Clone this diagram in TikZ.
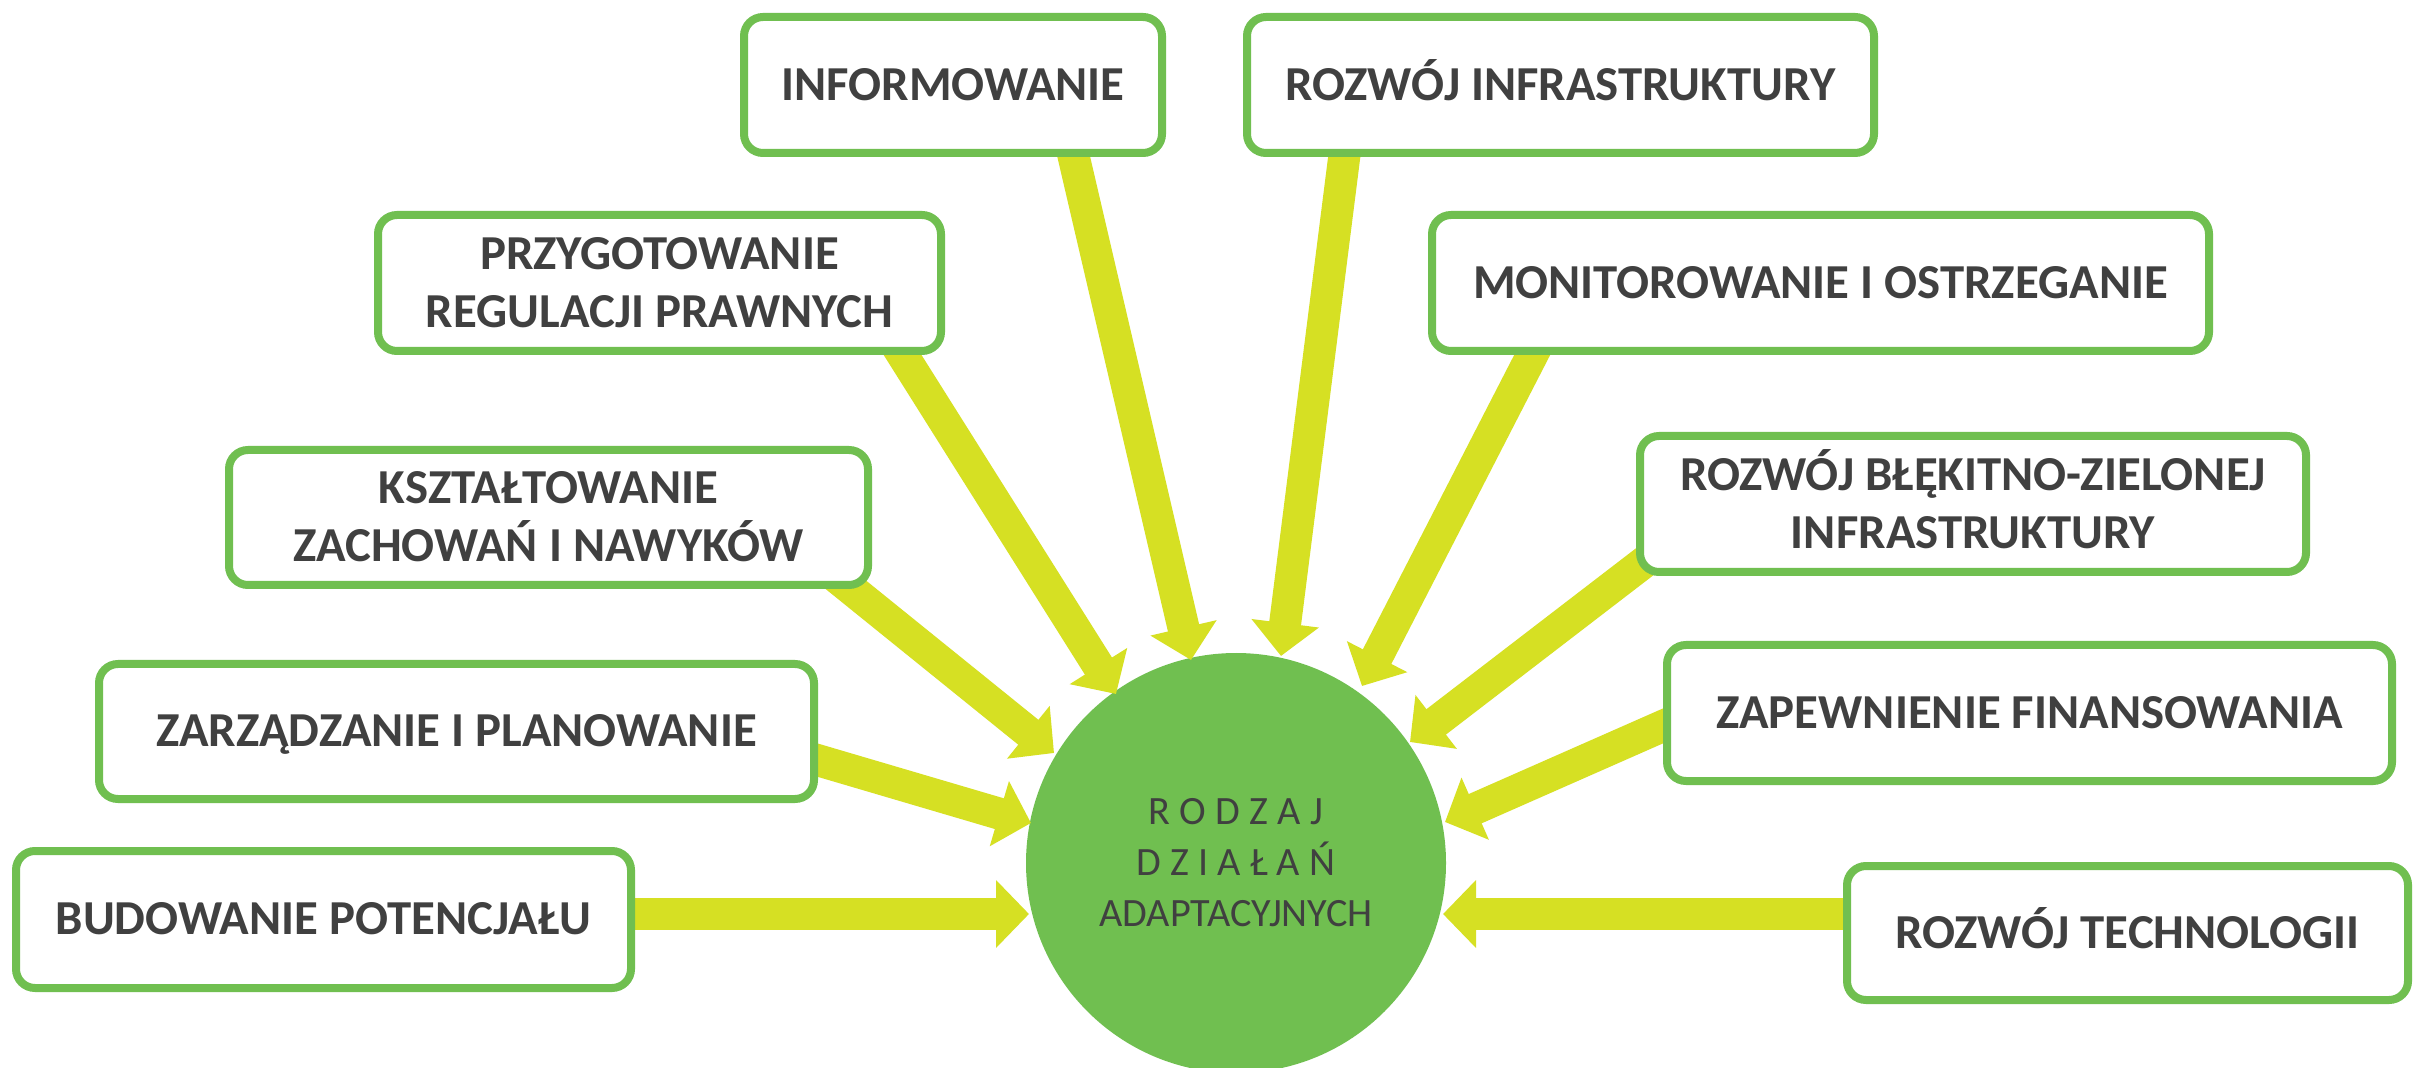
\documentclass[tikz,border=0pt]{standalone}
\usepackage{fontspec}
\setmainfont{Carlito}
\usetikzlibrary{arrows.meta}
\definecolor{gbox}{RGB}{112,191,80}
\definecolor{gcirc}{RGB}{112,191,80}
\definecolor{yarr}{RGB}{214,224,35}
\definecolor{tgray}{RGB}{64,64,64}
\newcommand\lsp{\kern4.6pt}
\begin{document}
\begin{tikzpicture}[x=0.5pt,y=-0.5pt,
  bx/.style={draw=gbox,line width=4pt,fill=white,rounded corners=9.5pt,inner sep=0pt,
    align=center,text=tgray,font=\fontsize{24.4pt}{29pt}\selectfont\bfseries,
    text height=15.4pt,text depth=0pt},
  two/.style={text height=44.4pt},
  arr/.style={draw=yarr,line width=16pt,line cap=butt,-{Triangle[length=16.5pt,width=33pt]}},
  ctr/.style={circle,fill=gcirc,inner sep=0pt,minimum size=210pt,align=center,text=tgray,
    font=\fontsize{20.1pt}{25.5pt}\selectfont,text height=63.7pt,text depth=0pt}]
\useasboundingbox (0,0) rectangle (2413,1068);
\fill[white] (0,0) rectangle (2413,1068);

% central circle
\node[ctr] (c) at (1236,863) {R\lsp O\lsp D\lsp Z\lsp A\lsp J\\D\lsp Z\lsp I\lsp A\lsp Ł\lsp A\lsp Ń\\ADAPTACYJNYCH};

% arrow tails (inside boxes) and tips (at the circle)
\coordinate (s1) at (620,914);  \coordinate (e1) at (1029,914);
\coordinate (s2) at (790,752);  \coordinate (e2) at (1031,823);
\coordinate (s3) at (830,572);  \coordinate (e3) at (1054,753);
\coordinate (s4) at (890,335);  \coordinate (e4) at (1116,694);
\coordinate (s5) at (1067,128); \coordinate (e5) at (1191,660);
\coordinate (s6) at (1348,127); \coordinate (e6) at (1281,656);
\coordinate (s7) at (1545,330); \coordinate (e7) at (1362,686);
\coordinate (s8) at (1660,550); \coordinate (e8) at (1410,742);
\coordinate (s9) at (1690,714); \coordinate (e9) at (1445,822);
\coordinate (s10) at (1860,914); \coordinate (e10) at (1443,914);

\foreach \i in {1,...,10} {\draw[arr] (s\i) -- (e\i);}

% boxes
\node[bx,minimum width=209pt,minimum height=68pt] (b5) at (953,85) {INFORMOWANIE};
\node[bx,minimum width=313.5pt,minimum height=68pt] (b6) at (1560.5,85) {ROZWÓJ INFRASTRUKTURY};
\node[bx,two,minimum width=281.5pt,minimum height=68pt] (b4) at (659.5,283) {PRZYGOTOWANIE\\REGULACJI PRAWNYCH};
\node[bx,minimum width=388.5pt,minimum height=68pt] (b7) at (1820.5,283) {MONITOROWANIE I OSTRZEGANIE};
\node[bx,two,minimum width=319.5pt,minimum height=67.5pt] (b3) at (548.5,517.5) {KSZTAŁTOWANIE\\ZACHOWAŃ I NAWYKÓW};
\node[bx,two,minimum width=333pt,minimum height=68pt] (b8) at (1973,504) {ROZWÓJ BŁĘKITNO-ZIELONEJ\\INFRASTRUKTURY};
\node[bx,minimum width=357.5pt,minimum height=67.5pt] (b2) at (456.5,731.5) {ZARZĄDZANIE I PLANOWANIE};
\node[bx,minimum width=362.5pt,minimum height=68pt] (b9) at (2029.5,713) {ZAPEWNIENIE FINANSOWANIA};
\node[bx,minimum width=307.5pt,minimum height=68.5pt] (b1) at (323.5,919.5) {BUDOWANIE POTENCJAŁU};
\node[bx,minimum width=280.5pt,minimum height=67pt] (b10) at (2127.5,933) {ROZWÓJ TECHNOLOGII};
\end{tikzpicture}
\end{document}
